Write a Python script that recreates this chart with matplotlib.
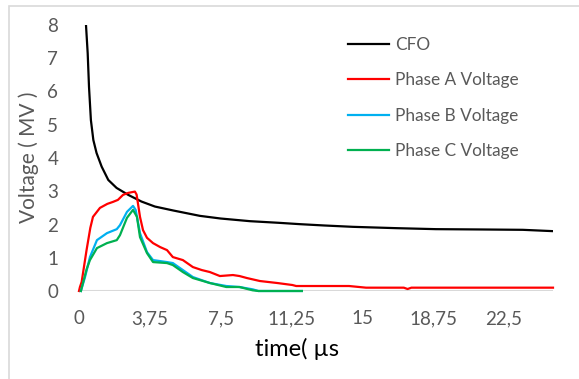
import matplotlib
matplotlib.use("Agg")
import matplotlib.pyplot as plt
from matplotlib.patches import Rectangle

plt.rcParams['font.family'] = ['Lato', 'DejaVu Sans']

# CFO curve (MV) vs time (us)
cfo_t = [0.37, 0.46, 0.53, 0.63, 0.76, 0.93, 1.2, 1.55, 1.99, 2.61, 3.31, 4.02, 5.0,
         6.4, 7.5, 9.05, 10.6, 11.7, 13.0, 14.5, 16.8, 18.9, 21.4, 23.5, 25.1]
cfo_v = [8.0, 7.15, 6.14, 5.14, 4.54, 4.15, 3.74, 3.34, 3.1, 2.89, 2.69, 2.54, 2.42,
         2.26, 2.18, 2.1, 2.05, 2.01, 1.97, 1.93, 1.89, 1.86, 1.85, 1.84, 1.8]

# phase A
a_t = [0, 0.05, 0.14, 0.4, 0.6, 0.74, 1.11, 1.5, 1.8, 2.06, 2.33, 2.6, 2.96, 3.05,
       3.23, 3.39, 3.6, 3.92, 4.3, 4.66, 4.97, 5.5, 6.03, 6.5, 6.93, 7.46, 8.15, 8.5,
       8.89, 9.58, 10.5, 11.3, 11.5, 14.3, 15.2, 17.2, 17.4, 17.6, 25.1]
a_v = [0, 0.12, 0.27, 1.23, 1.9, 2.23, 2.5, 2.62, 2.68, 2.74, 2.89, 2.95, 2.99, 2.9,
       2.23, 1.83, 1.6, 1.44, 1.32, 1.23, 1.02, 0.93, 0.72, 0.63, 0.57, 0.45, 0.48, 0.45,
       0.39, 0.3, 0.24, 0.18, 0.15, 0.15, 0.1, 0.1, 0.06, 0.1, 0.1]

# phase B
b_t = [0.1, 0.32, 0.58, 0.95, 1.48, 2.0, 2.17, 2.54, 2.86, 3.0, 3.23, 3.6, 3.92,
       4.66, 4.97, 5.5, 6.03, 6.93, 7.8, 8.5, 9.2, 9.5, 11.8]
b_v = [0, 0.42, 1.02, 1.53, 1.74, 1.86, 1.98, 2.38, 2.56, 2.44, 1.74, 1.17, 0.93,
       0.87, 0.84, 0.63, 0.42, 0.24, 0.15, 0.12, 0.05, 0, 0]

# phase C
c_t = [0.1, 0.21, 0.4, 0.58, 0.95, 1.48, 2.0, 2.17, 2.54, 2.86, 3.07, 3.23, 3.6,
       3.92, 4.66, 4.97, 5.5, 6.03, 6.93, 7.8, 8.5, 9.2, 9.5, 11.8]
c_v = [0, 0.24, 0.65, 0.93, 1.29, 1.44, 1.53, 1.68, 2.2, 2.44, 2.23, 1.62, 1.14,
       0.87, 0.84, 0.78, 0.57, 0.39, 0.24, 0.12, 0.12, 0.02, 0, 0]

xticks = [0, 3.75, 7.5, 11.25, 15, 18.75, 22.5]
xtick_labels = ['0', '3,75', '7,5', '11,25', '15', '18,75', '22,5']
yticks = [0, 1, 2, 3, 4, 5, 6, 7, 8]

W, H = 579, 379
fig = plt.figure(figsize=(W / 100, H / 100), dpi=100)
ax = fig.add_axes([79 / W, 1 - 291 / H, (553 - 79) / W, (291 - 25) / H])

# chart frame (only left and top edges show)
fig.patches.append(Rectangle((8.5 / W, -0.1), 1.2, 1.1 - 6 / H, transform=fig.transFigure,
                             fill=False, edgecolor='#d9d9d9', linewidth=1.2))

ax.axhline(0, color='#d9d9d9', linewidth=1.5, zorder=1)
lw = 1.6
ax.plot(cfo_t, cfo_v, color='black', lw=lw, label='CFO')
ax.plot(a_t, a_v, color='#ff0000', lw=lw, label='Phase A Voltage', clip_on=False)
ax.plot(b_t, b_v, color='#00b0f0', lw=lw, label='Phase B Voltage', clip_on=False)
ax.plot(c_t, c_v, color='#00b050', lw=lw, label='Phase C Voltage', clip_on=False)

ax.set_xlim(0, 25.1)
ax.set_ylim(0, 8)
ax.set_xticks(xticks)
ax.set_xticklabels(xtick_labels)
ax.set_yticks(yticks)
for s in ax.spines.values():
    s.set_visible(False)
ax.tick_params(length=0, labelsize=13.5, labelcolor='#595959')
ax.tick_params(axis='y', pad=15)
ax.tick_params(axis='x', pad=14)

fig.text(29 / W, 1 - 157 / H, 'Voltage ( MV )', rotation=90, ha='center', va='center',
         fontsize=15, color='#595959')
fig.text(297 / W, 1 - 349 / H, 'time( µs', ha='center', va='center',
         fontsize=17, color='black')

leg = ax.legend(loc='upper left', bbox_to_anchor=(348 / W, 1 - 37 / H),
                bbox_transform=fig.transFigure, frameon=False, fontsize=12.4,
                handlelength=2.4, handletextpad=0.35, labelspacing=1.12,
                borderaxespad=0, borderpad=0)
for t in leg.get_texts():
    t.set_color('#595959')

fig.savefig('out.png', dpi=100)
